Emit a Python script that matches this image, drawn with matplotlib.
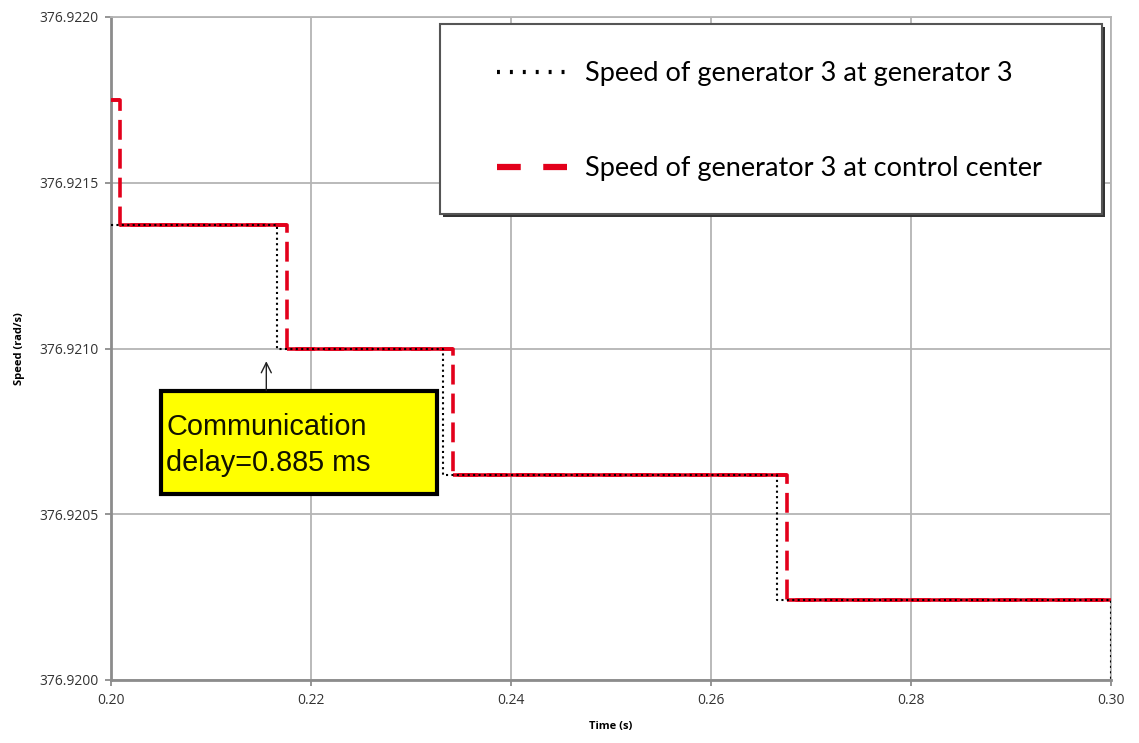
import matplotlib.pyplot as plt
import numpy as np
from matplotlib.lines import Line2D
from matplotlib.patches import Rectangle

# sample times (s) and speeds (rad/s)
gen_time = [0.2000, 0.2166, 0.2332, 0.2666, 0.3000]
gen_speed = [376.921373, 376.921000, 376.920617, 376.920242, 376.919950]

cc_time = [0.2000, 0.2009, 0.2176, 0.2342, 0.2676, 0.3000]
cc_speed = [376.921749, 376.921373, 376.921000, 376.920617, 376.920242, 376.920242]

x_ticks = [0.20, 0.22, 0.24, 0.26, 0.28, 0.30]
y_ticks = [376.9200, 376.9205, 376.9210, 376.9215, 376.9220]

labels = ["Speed of generator 3 at generator 3",
          "Speed of generator 3 at control center"]
note = "Communication\ndelay=0.885 ms"

RED = "#e3001b"
W, H = 1139, 743

fig = plt.figure(figsize=(W / 100, H / 100), dpi=100)
ax = fig.add_axes([111 / W, 1 - 680 / H, 1000 / W, 663 / H])

# control center: solid horizontals, dashed verticals
ax.hlines(cc_speed[:-1], cc_time[:-1], cc_time[1:], color=RED, lw=2.6, zorder=3)
ax.plot(cc_time, cc_speed, drawstyle="steps-post", color=RED, lw=2.6,
        ls=(0, (5.5, 2.5)), zorder=3)
ax.plot(gen_time, gen_speed, drawstyle="steps-post", color="black", lw=1.5,
        ls=(0, (1, 1.6)), zorder=4)

ax.set_xlim(x_ticks[0], x_ticks[-1])
ax.set_ylim(y_ticks[0], y_ticks[-1])
ax.set_xticks(x_ticks)
ax.set_yticks(y_ticks)
ax.xaxis.set_major_formatter(plt.FormatStrFormatter("%.2f"))
ax.yaxis.set_major_formatter(plt.FormatStrFormatter("%.4f"))
ax.grid(True, color="#b4b4b4", lw=1.3)
ax.set_axisbelow(True)

for side in ["top", "right"]:
    ax.spines[side].set_color("#b4b4b4")
    ax.spines[side].set_linewidth(1.3)
for side in ["left", "bottom"]:
    ax.spines[side].set_color("#8c8c8c")
    ax.spines[side].set_linewidth(2)

ax.tick_params(length=4, width=1.3, color="#8c8c8c", labelcolor="#333333",
               labelsize=10, pad=5)
for t in ax.get_xticklabels() + ax.get_yticklabels():
    t.set_fontfamily("Open Sans")

ax.set_xlabel("Time (s)", fontsize=8, fontweight="bold", family="Open Sans",
              labelpad=10)
ax.set_ylabel("Speed (rad/s)", fontsize=8, fontweight="bold", family="Open Sans",
              labelpad=10)

# yellow note box with arrow
ax.add_patch(Rectangle((0.05, 0.2805), 0.276, 0.1554, transform=ax.transAxes,
                       facecolor="#ffff00", edgecolor="black", lw=3, zorder=6))
ax.text(0.055, 0.3545, note, transform=ax.transAxes, fontsize=20.8,
        family="Liberation Sans", va="center", ha="left", linespacing=1.4,
        color="#111100", zorder=7)
ax.annotate("", xy=(0.21553, 376.92097), xytext=(0.21553, 376.920865),
            arrowprops=dict(arrowstyle="->", color="#222222", lw=1,
                            mutation_scale=18), zorder=6)

# legend frame with a dark shadow edge
fig.add_artist(Rectangle(((440 + 3) / W, 1 - (214 + 3) / H), 662 / W, 190 / H,
                         transform=fig.transFigure, facecolor="#333333",
                         edgecolor="none", zorder=2))
fig.add_artist(Rectangle((440 / W, 1 - 214 / H), 662 / W, 190 / H,
                         transform=fig.transFigure, facecolor="white",
                         edgecolor="#555555", lw=1.5, zorder=3))
handles = [
    Line2D([], [], color="black", lw=3, ls=(0, (0.7, 2.4))),
    Line2D([], [], color=RED, lw=4.5, ls=(0, (3.8, 3.6))),
]
fig.legend(handles, labels, loc="upper left",
           bbox_to_anchor=(497 / W, 1 - 61 / H), frameon=False, borderpad=0,
           borderaxespad=0, handlelength=2.7, handletextpad=0.55,
           labelspacing=2.6, prop={"family": "Lato", "size": 19.5})

fig.savefig("out.png", dpi=100)
